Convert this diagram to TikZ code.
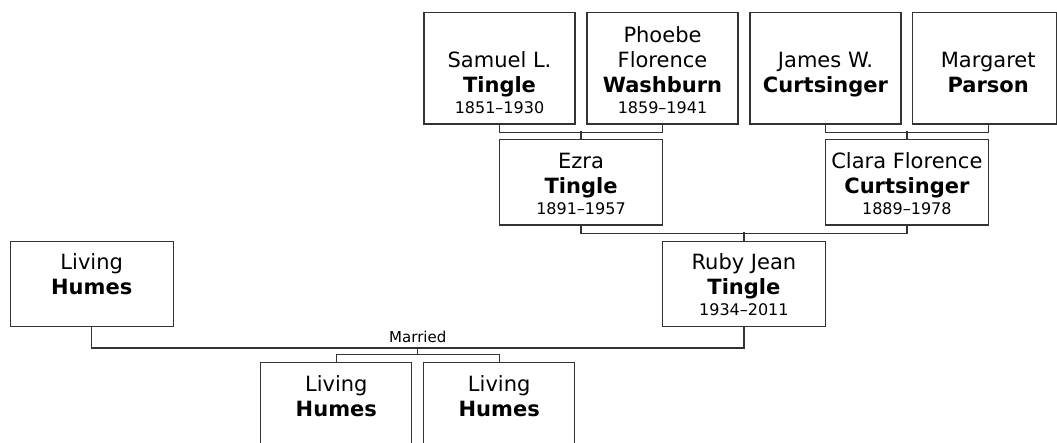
\documentclass[tikz,border=0pt]{standalone}
\usepackage{fontspec}
\setmainfont{DejaVu Sans}
\usetikzlibrary{positioning}
\definecolor{linegray}{HTML}{333333}
\newcommand{\namefont}{\fontsize{21}{25}\selectfont}
\newcommand{\datefont}{\fontsize{16}{21}\selectfont}
% last line of a card sits 11pt above its bottom edge
\newcommand{\card}[3]{\makebox[0pt]{\parbox[b]{200pt}{\centering\namefont #1\\\textbf{#2}\\[-4pt]{\datefont\rule[-11pt]{0pt}{12pt}#3}}}}
\tikzset{
  person/.style={draw=linegray, line width=1.3pt, fill=white, inner sep=0pt,
    minimum width=163pt, text depth=11pt, text height=74.5pt},
  narrow/.style={person, minimum width=151pt},
  tall/.style={narrow, text height=100.3pt},
  link/.style={draw=linegray, line width=1.3pt},
}
\begin{document}
\begin{tikzpicture}[x=1pt, y=-1pt]
\useasboundingbox (0,0) rectangle (1057,442);
\clip (0,0) rectangle (1057,442);
% great-grandparents
\node[tall] (sam) at (499.5,68.4) {\card{Samuel L.}{Tingle}{1851–1930}};
\node[tall] (phoebe) at (662.5,68.4) {\card{Phoebe\\Florence}{Washburn}{1859–1941}};
\node[tall] (james) at (825.5,68.4) {\card{James W.}{Curtsinger}{}};
\node[tall] (marg) at (988.2,68.4) {\card{Margaret}{Parson}{}};
\coordinate (edge) at (1056.3,0);
\draw[link] (marg.north -| edge) -- (marg.south -| edge);
% grandparents
\node[person] (ezra) at (581,182.3) {\card{Ezra}{Tingle}{1891–1957}};
\node[person] (clara) at (906.85,182.3) {\card{Clara Florence}{Curtsinger}{1889–1978}};
% parents
\node[person] (ruby) at (743.9,284) {\card{Ruby Jean}{Tingle}{1934–2011}};
\node[person] (dad) at (91.7,284) {\card{Living}{Humes}{}};
% children
\node[narrow] (kida) at (336.3,405.5) {\card{Living}{Humes}{}};
\node[narrow] (kidb) at (499.2,405.5) {\card{Living}{Humes}{}};
% family lines
\draw[link] (sam.south) -- ++(0,8) -| (phoebe.south);
\draw[link] (ezra.north) -- ++(0,-7.5);
\draw[link] (james.south) -- ++(0,8) -| (marg.south);
\draw[link] (clara.north) -- ++(0,-7.5);
\draw[link] (ezra.south) -- ++(0,8) -| (clara.south);
\draw[link] (ruby.north) -- ++(0,-8.2);
\draw[link] (dad.south) -- ++(0,20.5) -| (ruby.south);
\coordinate (wed) at (417.8,347.3);
\node[inner sep=0pt, font=\fontsize{15}{18}\selectfont, above=4pt of wed] (married) {Married};
\draw[link] (wed) -- ++(0,7.7);
\draw[link] (kida.north) -- ++(0,-7.7) -| (kidb.north);
\end{tikzpicture}
\end{document}
